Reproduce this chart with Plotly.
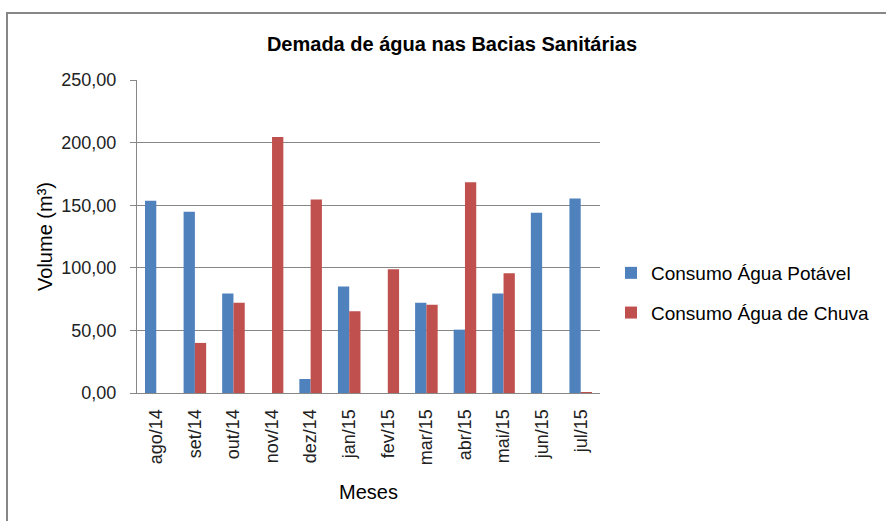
import plotly.graph_objects as go

months = ["ago/14", "set/14", "out/14", "nov/14", "dez/14", "jan/15",
          "fev/15", "mar/15", "abr/15", "mai/15", "jun/15", "jul/15"]
potavel = [153.5, 144.7, 79.4, 0, 11.2, 85.0, 0, 72.0, 50.6, 79.4, 143.9, 155.4]
chuva = [0, 40.0, 72.0, 204.4, 154.6, 65.3, 98.9, 70.4, 168.4, 95.7, 0, 0.8]
ytick_vals = [0, 50, 100, 150, 200, 250]
ytick_text = ["0,00", "50,00", "100,00", "150,00", "200,00", "250,00"]

FONT = "Liberation Sans, Arial, sans-serif"
GRID = "#878787"

fig = go.Figure()
fig.add_trace(go.Bar(x=months, y=potavel, name="Consumo Água Potável",
                     marker=dict(color="#4F81BD", line=dict(width=0)),
                     legendgroup="a"))
fig.add_trace(go.Bar(x=months, y=chuva, name="Consumo Água de Chuva",
                     marker=dict(color="#C0504D", line=dict(width=0)),
                     legendgroup="b"))

W, H = 886, 521
L, R, T, B = 137, 286, 80, 128
pw, ph = W - L - R, H - T - B

def px2x(x):
    return (x - L) / pw

def px2y(y):
    return (H - B - y) / ph

fig.update_layout(
    width=W, height=H,
    margin=dict(l=L, r=R, t=T, b=B, autoexpand=False),
    paper_bgcolor="white", plot_bgcolor="white",
    font=dict(family=FONT, color="#222222"),
    barmode="group", bargap=0.415, bargroupgap=0,
    title=dict(text="<b>Demada de água nas Bacias Sanitárias</b>",
               x=452 / W, xref="container", xanchor="center",
               y=1 - 44 / H, yref="container", yanchor="middle",
               font=dict(size=20, color="#000000", family=FONT)),
    showlegend=True,
    legend=dict(x=px2x(611), xanchor="left", y=px2y(293), yanchor="middle",
                font=dict(size=19, color="#000000", family=FONT),
                traceorder="grouped", tracegroupgap=12,
                itemwidth=30, bgcolor="rgba(0,0,0,0)"),
    xaxis=dict(
        automargin=False,
        tickangle=-90, tickfont=dict(size=18, color="#222222"),
        showline=True, linecolor=GRID, linewidth=1,
        ticks="", showgrid=False,
        title=dict(text="Meses", font=dict(size=20, color="#000000"), standoff=20),
        ticklabelstandoff=8,
    ),
    yaxis=dict(
        automargin=False,
        range=[0, 250], tickvals=ytick_vals, ticktext=ytick_text,
        tickfont=dict(size=18, color="#222222"),
        showline=True, linecolor=GRID, linewidth=1,
        ticks="outside", ticklen=6, tickcolor=GRID,
        showgrid=True, gridcolor=GRID, gridwidth=1,
        zeroline=False,
        title=dict(text="Volume (m³)", font=dict(size=20, color="#000000"), standoff=3),
        ticklabelstandoff=10,
    ),
    shapes=[dict(type="rect", xref="paper", yref="paper",
                 x0=px2x(7), x1=px2x(895), y0=px2y(540), y1=px2y(13),
                 line=dict(color=GRID, width=2), fillcolor="rgba(0,0,0,0)",
                 layer="below")],
)

fig.write_html("out.html", config={"displayModeBar": False},
               post_script="document.body.style.margin='0px';")
